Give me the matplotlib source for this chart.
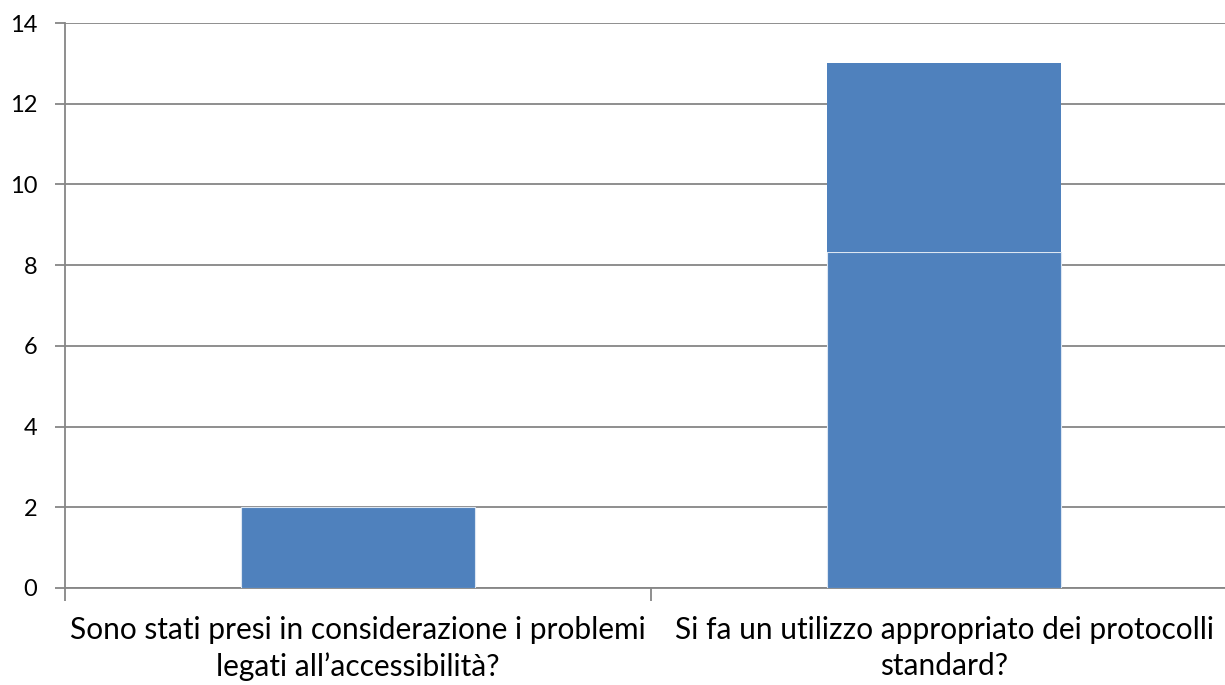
import matplotlib
matplotlib.use("Agg")
import matplotlib.pyplot as plt

categories = ["Sono stati presi in considerazione i problemi\nlegati all\u2019accessibilit\u00e0?",
              "Si fa un utilizzo appropriato dei protocolli\nstandard?"]
lower_values = [2, 8.33]
upper_values = [0, 4.67]
yticks = [0, 2, 4, 6, 8, 10, 12, 14]

plt.rcParams['font.family'] = ['Lato', 'DejaVu Sans']
fig = plt.figure(figsize=(12.25, 6.85), dpi=100)
ax = fig.add_axes([65/1225, 1 - 588/685, (1237-65)/1225, (588-23)/685])

grid_c = '#868686'
bar_c = '#4F81BD'
x = list(range(len(categories)))
ax.bar(x, lower_values, width=0.4, color=bar_c, edgecolor='#dce6f2', linewidth=0.8, zorder=3)
ax.bar(x, upper_values, bottom=lower_values, width=0.4, color=bar_c, linewidth=0, zorder=3)

ax.set_xlim(-0.5, 1.5)
ax.set_ylim(0, 14)
ax.set_yticks(yticks)
ax.set_yticklabels([str(v) for v in yticks], fontsize=17)
ax.yaxis.grid(True, color=grid_c, linewidth=1.3, zorder=0)
ax.set_axisbelow(True)

ax.set_xticks([-0.5, 0.5, 1.5])
ax.set_xticklabels([])
ax.set_xticks(x, minor=True)
ax.set_xticklabels(categories, minor=True, fontsize=21.5, linespacing=1.35)
ax.tick_params(axis='x', which='minor', length=0, pad=20)
ax.tick_params(axis='x', which='major', length=9, color=grid_c, width=1.3)
ax.tick_params(axis='y', length=7, color=grid_c, width=1.3, pad=13)

for s in ['top', 'right']:
    ax.spines[s].set_visible(False)
for s in ['left', 'bottom']:
    ax.spines[s].set_color(grid_c)
    ax.spines[s].set_linewidth(1.3)

fig.savefig("out.png", dpi=100)
